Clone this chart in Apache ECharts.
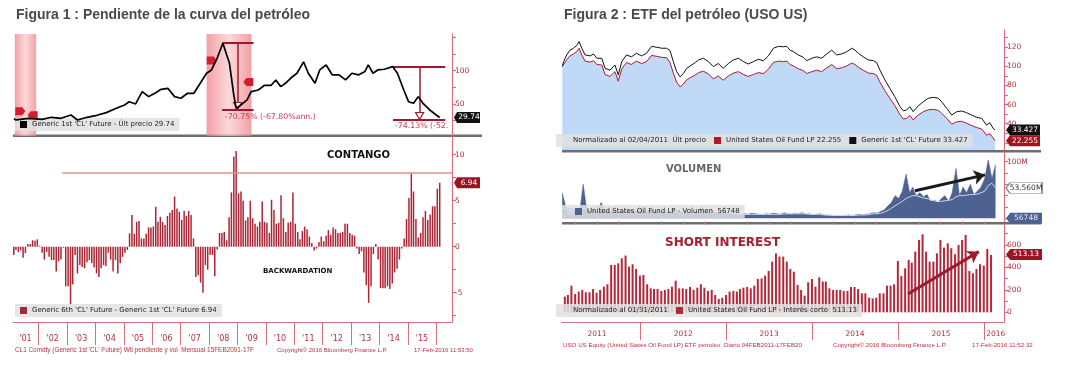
<!DOCTYPE html>
<html><head><meta charset="utf-8">
<script src="https://cdn.jsdelivr.net/npm/echarts@6/dist/echarts.min.js"></script>
<style>html,body{margin:0;padding:0;background:#fff}#c{width:1065px;height:366px}</style>
</head><body><div id="c"></div>
<script>
// ================= DATA =================
// --- Figura 1 ---
const fig1TickYears = [2002,2003,2004,2005,2006,2007,2008,2009,2010,2011,2012,2013,2014,2015,2016];
const fig1LabelYears = [2001,2002,2003,2004,2005,2006,2007,2008,2009,2010,2011,2012,2013,2014,2015];
const clDates = ['2001-02-15','2001-03-15','2001-08-28','2002-02-15','2002-06-15','2002-10-15','2003-02-20','2003-05-15','2003-09-15','2004-01-20','2004-05-20','2004-09-25','2005-01-10','2005-03-10','2005-06-01','2005-08-25','2005-11-15','2006-02-05','2006-04-25','2006-07-20','2006-10-15','2007-01-05','2007-03-30','2007-06-20','2007-09-10','2007-12-01','2008-02-01','2008-04-05','2008-06-27','2008-09-20','2008-11-15','2008-12-15','2009-02-15','2009-05-05','2009-06-25','2009-09-25','2009-12-15','2010-03-10','2010-05-10','2010-07-10','2010-09-10','2010-11-15','2011-02-05','2011-05-01','2011-07-01','2011-09-25','2011-11-25','2012-02-15','2012-05-05','2012-07-30','2012-10-22','2013-01-12','2013-04-05','2013-06-28','2013-08-10','2013-10-10','2013-12-10','2014-03-05','2014-06-20','2014-08-20','2014-11-10','2015-01-10','2015-03-15','2015-05-15','2015-07-15','2015-10-10','2016-01-01','2016-02-15'];
const clValues = [28,26,28.5,27,30,28.5,33.4,26,30,33,37,43.5,48.5,53.4,50,68.4,61,66,72,73.5,61,58.5,66,66,81,96,101,116,141,111,63,43.5,48.5,56,68.4,71,78,78,86,76,81,88.5,96,113,96,81,101,108.5,93.5,93.5,86,96,93.5,98.5,108.5,96,101,102,106,96,71,53.4,51,61,51,41,33.4,29.74];
// Generic 6th - Generic 1st, monthly from Feb 2001 to Feb 2016
const slopeStart = [2001, 2];
const slopeValues = [
 -0.9,-0.35,-0.6,-0.4,-1.2,-0.7,0.3,0.3,0.7,0.65,0.8,
 0.1,-0.65,-1.4,-0.55,-1.1,-1.45,-1.45,-2.7,-1.6,-1.4,-0.1,-4.3,
 -4.3,-6.3,-4.1,-0.9,-2.9,-2.0,-2.2,-2.35,-1.7,-1.45,-1.8,-2.25,
 -2.9,-3.3,-2.35,-2.0,-2.1,-0.65,-1.4,-2.7,-1.45,-2.9,-1.8,-1.1,
 -0.65,-0.35,1.45,3.45,1.4,2.7,2.8,0.9,0.9,1.4,2.1,2.1,
 2.2,4.35,2.7,3.25,2.7,2.35,3.35,3.7,4.0,5.45,4.15,3.8,
 2.9,3.9,3.35,3.9,3.45,0.9,-3.3,-3.1,-3.9,-5.0,-2.0,-2.5,
 -0.9,-0.9,-3.2,-0.3,1.5,1.5,1.6,0.7,3.2,5.9,9.8,10.4,
 5.8,6.0,5.0,2.85,3.2,5.0,3.1,2.5,2.2,2.7,4.9,2.7,
 2.6,1.5,5.1,4.0,2.5,2.6,5.6,3.1,1.6,2.6,2.7,5.9,
 2.5,1.6,0.8,1.7,2.2,1.9,1.1,0.4,-0.4,-0.2,0.5,1.1,
 0.6,1.2,1.8,1.3,2.1,1.9,1.5,1.5,1.6,2.5,2.5,1.5,
 1.3,1.2,-0.2,-0.8,-0.5,-2.8,-4.2,-6.1,-4.3,-0.8,0.3,-1.4,
 -4.5,-4.5,-4.5,-4.3,-4.6,-4.0,-2.8,-2.4,-1.4,-0.2,0.9,3.0,
 5.3,8.0,6.0,3.0,1.0,1.5,3.2,3.9,2.9,3.5,4.4,4.4,
 6.3,6.94];
const recessions = [['2001-03-01','2001-11-30'],['2007-12-01','2009-06-30']];
const contangoThreshold = 8.0;
const thresholdFrom = '2002-10-30';
const drawdowns = [
 {peak:'2008-06-17', end:'2009-07-27', mid:'2009-01-03', top:141.8, bottom:41, tri:47, label:'-70.75% (-67.80%ann.)', labelAt:'2008-07-25', labelY:30.5},
 {peak:'2014-06-24', end:'2016-04-26', mid:'2015-06-01', top:105.8, bottom:27, tri:32, label:'-74.13% (-52.', labelAt:'2014-07-20', labelY:17}
];
const recessionFlags = [['2001-05-10',39,'r'],['2001-10-15',33,'l'],['2008-02-05',115,'r'],['2009-05-20',83,'l']];
const clLast = 29.74, slopeLast = 6.94;

// --- Figura 2 ---
const fig2TickYears = [2012,2013,2014,2015,2016];
const fig2LabelDates = ['2011-07-02','2012-07-02','2013-07-02','2014-07-02','2015-07-02','2016-02-20'];
const usoDates = ['2011-02-04','2011-02-10','2011-02-23','2011-03-09','2011-03-24','2011-04-07','2011-04-17','2011-04-28','2011-05-12','2011-06-03','2011-06-17','2011-07-01','2011-07-22','2011-08-05','2011-08-26','2011-09-16','2011-09-30','2011-10-15','2011-11-04','2011-11-25','2011-12-16','2012-01-07','2012-01-28','2012-02-19','2012-03-12','2012-04-02','2012-04-23','2012-05-07','2012-05-21','2012-06-04','2012-06-19','2012-07-03','2012-07-17','2012-08-07','2012-08-22','2012-09-05','2012-09-26','2012-10-17','2012-11-07','2012-11-28','2012-12-19','2013-01-10','2013-01-31','2013-02-21','2013-03-15','2013-04-05','2013-04-26','2013-05-17','2013-06-08','2013-06-29','2013-07-20','2013-08-11','2013-09-01','2013-09-15','2013-09-29','2013-10-13','2013-11-03','2013-11-25','2013-12-09','2013-12-30','2014-01-20','2014-02-10','2014-03-04','2014-03-25','2014-04-15','2014-05-06','2014-05-28','2014-06-18','2014-07-02','2014-07-16','2014-08-06','2014-08-28','2014-09-18','2014-10-02','2014-10-16','2014-11-06','2014-11-27','2014-12-18','2015-01-09','2015-01-23','2015-02-06','2015-02-20','2015-03-06','2015-03-27','2015-04-18','2015-05-09','2015-05-31','2015-06-21','2015-07-05','2015-07-27','2015-08-17','2015-09-07','2015-09-28','2015-10-19','2015-11-10','2015-12-01','2015-12-22','2016-01-12','2016-01-26','2016-02-09','2016-02-17'];
const cl1Norm = [100,105,112,117,119,122,126,119,112,111,113,108.5,108.5,98,96,101.5,91,105,112,110,113.7,111,113.7,121,120,119,119,116.5,105,94.5,89,92.7,98,101.5,104,106.7,108.5,105,99.7,103,98,103,106.7,108.5,105,102.5,105,107.4,106,111,119,121,120.5,121,117,115.4,112,109.5,106,108.5,110,108.5,113,117,112,113,115.4,119,117,113.7,110,106.7,106,104,96,85.8,77,68.3,57.8,53.6,54.3,57.8,52.6,58.5,63,66.6,67.6,66.6,63,56,49,52.6,53.3,51.5,49,46.7,45.6,38.6,41,35,33.427];
const usoNorm = [100,101,107,111,113,115.5,119,112,105.5,104.5,106,102,101.5,91.5,89.5,94.5,84.5,97.5,104,102,105.5,103,105,111.5,110.5,109.5,109,104,93,83.5,78.5,81.5,86,89,91,93.5,95,92,87,90,85.5,90,93,94.5,91.5,89.5,91.5,93.5,92.5,97,104,105.5,105,105.5,102,100.5,97.5,95.5,92.5,94.5,96,94.5,98.5,102,97.5,98.5,100.5,103.5,102,99,96,93,92.5,90.5,83.5,74.5,66.5,59,49.5,45,45.5,48.5,44,49,52.5,54.5,55,54,51,45.5,39.5,42,42.5,40.5,38,36,34.5,28,29.5,25,22.255];
// Volume (millions), semi-monthly from 4 Feb 2011
const volStart = [2011, 2];
const volume = [45,20,15,12,18,10,60,15,12,18,10,28,14,12,15,10,14,12,16,12,15,12,18,10,
 14,20,12,15,10,14,12,18,12,10,14,12,10,12,14,20,12,10,14,10,12,10,8,10,
 8,6,7,8,7,9,8,7,6,8,7,9,8,7,10,8,7,9,8,10,7,8,6,7,
 8,6,5,6,4,5,4,5,6,5,6,7,6,7,8,10,9,12,
 15,22,28,40,35,48,78,45,55,40,45,38,42,30,32,28,35,40,30,45,88,40,55,45,60,42,48,55,70,103,70,95];
const volumeAvg = [18,17,17,16,16,15,18,17,16,16,15,17,16,15,15,14,14,14,14,14,13,14,14,13,
 13,14,13,13,13,13,13,14,13,12,12,12,12,12,12,13,13,12,12,11,11,11,10,10,
 9,8,8,7,7,7,7,7,7,7,7,7,7,7,8,8,8,8,8,8,8,7,7,7,
 7,6,6,5,5,5,5,5,5,5,5,6,6,6,7,8,8,9,11,14,18,22,26,30,
 35,38,40,40,38,36,35,33,31,30,30,31,32,33,38,40,40,41,42,42,43,45,48,58,62,54];
// Short interest (normalised), semi-monthly from 15 Feb 2011
const siStart = [2011, 2];
const shortInterest = [139,154,237,163,184,199,178,178,207,175,
 199,228,249,421,421,435,480,504,406,427,
 385,326,332,249,213,207,207,190,199,207,
 228,281,213,213,207,225,199,219,249,219,
 190,199,154,119,130,154,184,190,184,207,
 219,225,213,237,296,302,326,367,450,524,
 495,495,450,385,361,243,199,148,267,296,
 228,311,273,273,213,199,199,199,190,190,
 225,225,207,169,169,130,124,130,169,169,
 237,237,249,456,323,391,465,441,539,643,
 693,539,450,450,524,643,575,613,569,516,
 598,643,687,367,347,385,427,415,563,510];
const volArrow = [['2015-03-14',48.8],['2016-01-05',76.8]];
const siArrow = [['2015-02-12',163],['2015-12-10',539]];
const usoLast = 22.255, cl2Last = 33.427, volAvgLast = 53.56, volLast = 0.056748, siLast = 513.13;

// ================= HELPERS =================
const T = s => { const p = s.split('-').map(Number); return +new Date(p[0], p[1]-1, p[2] || 1); };
const pair = (ds, vs) => ds.map((d, i) => [T(d), vs[i]]);
function monthly(start, vals) { return vals.map((v, i) => [+new Date(start[0], start[1]-1+i, 15), v]); }
function semiMonthly(start, vals, d1, d2) {
  return vals.map((v, i) => {
    const m = start[1]-1+Math.floor(i/2);
    const d = (i % 2 === 0) ? new Date(start[0], m, d1) : (d2 === 0 ? new Date(start[0], m+1, 0) : new Date(start[0], m, d2));
    return [+d, v];
  });
}

const RED_AX = '#d8707c', RED_TX = '#b3303e';
const FONT = 'DejaVu Sans';
const F1MIN = T('2001-02-05'), F1MAX = T('2016-07-22');
const F2MIN = T('2011-02-03'), F2MAX = T('2016-03-26');

function yAx(grid, min, max, ticks, labels, fmt) {
  return { type:'value', gridIndex:grid, position:'right', min:min, max:max,
    axisLine:{show:true, lineStyle:{color:RED_AX, width:1.2}},
    axisTick:{show:true, length:4, customValues:ticks, lineStyle:{color:RED_AX, width:1.2}},
    axisLabel:{show:true, customValues:labels, margin:3, color:RED_TX, fontSize:7.5, fontFamily:FONT, formatter:fmt || (v => String(v))},
    splitLine:{show:false} };
}
function hiddenX(grid, min, max) {
  return { type:'value', gridIndex:grid, min:min, max:max, show:false, splitLine:{show:false} };
}
const boxPath = 'path://M0,5 L4,0 L34,0 L34,10 L4,10 Z';
function valueBox(xmax, val, txt, fill, txtColor, w, border) {
  return { coord:[xmax, val], symbol:boxPath, symbolSize:[w, 11], symbolKeepAspect:false,
    symbolOffset:[w/2+2, 0],
    itemStyle:{color:fill, borderColor:border || fill, borderWidth: border ? 1 : 0},
    label:{show:true, position:'inside', formatter:txt, color:txtColor, fontSize:7.5, fontFamily:FONT, offset:[2,0]} };
}

// ================= OPTION =================
const ddLines = [], ddPoints = [];
const DDC = '#9b1c2c';
drawdowns.forEach(d => {
  ddLines.push([{coord:[T(d.peak), d.top]}, {coord:[T(d.end), d.top]}]);
  ddLines.push([{coord:[T(d.peak), d.bottom]}, {coord:[T(d.end), d.bottom]}]);
  ddLines.push([{coord:[T(d.mid), d.top], lineStyle:{width:1.5}}, {coord:[T(d.mid), d.tri]}]);
  ddPoints.push({coord:[T(d.mid), d.tri], symbol:'triangle', symbolRotate:180, symbolSize:[8,7],
    itemStyle:{color:'#fff', borderColor:DDC, borderWidth:1.2}, label:{show:false}});
  ddPoints.push({coord:[T(d.labelAt), d.labelY], symbol:'circle', symbolSize:0,
    label:{show:true, position:'right', distance:0, formatter:d.label, color:'#c43c50', fontSize:7.8, fontFamily:FONT}});
});
const flagR = 'path://M0,0 L7,0 L10,4 L7,8 L0,8 Z', flagL = 'path://M3,0 L10,0 L10,8 L3,8 L0,4 Z';
recessionFlags.forEach(f => ddPoints.push({coord:[T(f[0]), f[1]], symbol: f[2]==='r' ? flagR : flagL, symbolSize:[10,8],
  itemStyle:{color:'#d11f2f'}, label:{show:false}}));
ddPoints.push(valueBox(F1MAX, clLast, '29.74', '#111', '#fff', 26));

const recGrad = new echarts.graphic.LinearGradient(0,0,1,0,[
  {offset:0, color:'rgba(238,128,134,0.75)'},{offset:0.5, color:'rgba(249,200,202,0.7)'},{offset:1, color:'rgba(238,128,134,0.75)'}]);

const P1 = "Generic 1st 'CL' Future - Últ precio 29.74";
const B1 = "Generic 6th 'CL' Future - Generic 1st 'CL' Future 6.94";
const N1 = "Normalizado al 02/04/2011  Últ precio";
const USO = "United States Oil Fund LP 22.255";
const CL2 = "Generic 1st 'CL' Future 33.427";
const VOL = "United States Oil Fund LP - Volumen  56748";
const VOLAVG = "vol-avg";
const N2 = "Normalizado al 01/31/2011";
const SI = "United States Oil Fund LP - Interés corto  513.13";

const legBase = {orient:'horizontal', selectedMode:false, backgroundColor:'rgba(224,224,224,0.85)',
  padding:[3,5,3,5], itemWidth:7, itemHeight:7, itemGap:8, icon:'rect',
  textStyle:{fontSize:7, color:'#222', fontFamily:FONT}};

const yearOf = v => new Date(v).getFullYear();

const option = {
  animation:false,
  backgroundColor:'#fff',
  title:[
    {text:'Figura 1 : Pendiente de la curva del petróleo', left:16, top:8, padding:0,
      textStyle:{fontSize:14, fontWeight:'bold', color:'#4a4a4a', fontFamily:'Liberation Sans'}},
    {text:'Figura 2 : ETF del petróleo (USO US)', left:564, top:8, padding:0,
      textStyle:{fontSize:14, fontWeight:'bold', color:'#4a4a4a', fontFamily:'Liberation Sans'}}
  ],
  legend:[
    Object.assign({}, legBase, {data:[P1], left:15, top:118}),
    Object.assign({}, legBase, {data:[B1], left:15, top:304}),
    Object.assign({}, legBase, {data:[{name:N1, icon:'none'}, USO, CL2], left:556, top:134}),
    Object.assign({}, legBase, {data:[VOLAVG, VOL], left:562, top:205, itemGap:1,
      formatter: n => n === VOLAVG ? '' : n}),
    Object.assign({}, legBase, {data:[{name:N2, icon:'none'}, SI], left:556, top:304})
  ],
  grid:[
    {left:13, top:34, width:439, height:102},
    {left:13, top:137, width:439, height:185},
    {left:562, top:30, width:442, height:120},
    {left:562, top:152.5, width:442, height:69.5},
    {left:562, top:224.5, width:442, height:97.5}
  ],
  xAxis:[
    hiddenX(0, F1MIN, F1MAX),
    { type:'value', gridIndex:1, min:F1MIN, max:F1MAX,
      axisLine:{show:true, onZero:false, lineStyle:{color:RED_AX, width:1.2}},
      axisTick:{show:true, length:23, customValues:fig1TickYears.map(y => +new Date(y,0,1)), lineStyle:{color:RED_AX, width:1}},
      axisLabel:{show:true, customValues:fig1LabelYears.map(y => +new Date(y, 6, y===2001?15:1)), margin:13,
        color:RED_TX, fontSize:8, fontFamily:FONT, formatter: v => "'" + String(yearOf(v)).slice(2)},
      splitLine:{show:false} },
    hiddenX(2, F2MIN, F2MAX),
    hiddenX(3, F2MIN, F2MAX),
    { type:'value', gridIndex:4, min:F2MIN, max:F2MAX,
      axisLine:{show:true, onZero:false, lineStyle:{color:RED_AX, width:1.2}},
      axisTick:{show:true, length:18, customValues:fig2TickYears.map(y => +new Date(y,0,1)), lineStyle:{color:RED_AX, width:1}},
      axisLabel:{show:true, customValues:fig2LabelDates.map(T), margin:8,
        color:RED_TX, fontSize:7.5, fontFamily:FONT, formatter: v => String(yearOf(v))},
      splitLine:{show:false} },
    { type:'value', gridIndex:4, min:F2MIN, max:F2MAX,
      axisLine:{show:false, onZero:false},
      axisTick:{show:true, length:3, customValues:[2011,2012,2013,2014,2015].flatMap(y => [3,6,9].map(m => +new Date(y,m,1))).concat([+new Date(2016,0,1)]).filter(v => v > F2MIN), lineStyle:{color:RED_AX}},
      axisLabel:{show:false}, splitLine:{show:false} }
  ],
  yAxis:[
    yAx(0, 1.95, 154.9, [25,50,75,100,125,150], [50,100]),
    yAx(1, -8.18, 11.92, [-7.5,-5,-2.5,0,2.5,5,7.5,10], [-5,0,5,10]),
    yAx(2, 12.46, 138.1, [20,30,40,50,60,70,80,90,100,110,120,130], [40,60,80,100,120]),
    yAx(3, -6.5, 116.3, [0,20,40,60,80,100], [100], v => v + 'M'),
    yAx(4, -86, 780, [0,100,200,300,400,500,600,700], [0,200,400,600])
  ],
  series:[
    { name:P1, type:'line', xAxisIndex:0, yAxisIndex:0, data:pair(clDates, clValues), showSymbol:false, clip:false,
      color:'#000', lineStyle:{color:'#000', width:1.7}, z:5,
      markArea:{silent:true, itemStyle:{color:recGrad}, data:recessions.map(r => [{xAxis:T(r[0])}, {xAxis:T(r[1])}])},
      markLine:{silent:true, symbol:['none','none'], label:{show:false}, lineStyle:{color:DDC, width:2, type:'solid'}, data:ddLines},
      markPoint:{silent:true, data:ddPoints} },
    { name:B1, type:'bar', xAxisIndex:1, yAxisIndex:1, data:monthly(slopeStart, slopeValues), barWidth:1.5, clip:false,
      color:'#ad2434', itemStyle:{color:'#ad2434'},
      markLine:{silent:true, symbol:['none','none'], label:{show:false}, lineStyle:{color:'#f08890', width:1.5, type:'solid'},
        data:[[{coord:[T(thresholdFrom), contangoThreshold]}, {coord:[F1MAX, contangoThreshold]}]]},
      markPoint:{silent:true, data:[valueBox(F1MAX, slopeLast, '6.94', '#9b1424', '#fff', 26)]} },
    { name:USO, type:'line', xAxisIndex:2, yAxisIndex:2, data:pair(usoDates, usoNorm), showSymbol:false,
      color:'#b0182c', lineStyle:{color:'#b0182c', width:1}, areaStyle:{color:'#bfd9f7', opacity:1, origin:'start'}, z:2 },
    { name:CL2, type:'line', xAxisIndex:2, yAxisIndex:2, data:pair(usoDates, cl1Norm), showSymbol:false, clip:false,
      color:'#111', lineStyle:{color:'#111', width:1}, z:3,
      markPoint:{silent:true, data:[valueBox(F2MAX, cl2Last, '33.427', '#111', '#fff', 34), valueBox(F2MAX, usoLast, '22.255', '#a0141f', '#fff', 34)]} },
    { name:N1, type:'line', xAxisIndex:2, yAxisIndex:2, data:[] },
    { name:VOL, type:'line', xAxisIndex:3, yAxisIndex:3, data:semiMonthly(volStart, volume, 4, 19), showSymbol:false,
      color:'#4d6290', lineStyle:{color:'#4d6290', width:0.6}, areaStyle:{color:'#4d6290', opacity:1} },
    { name:VOLAVG, type:'line', xAxisIndex:3, yAxisIndex:3, data:semiMonthly(volStart, volumeAvg, 4, 19), showSymbol:false, clip:false,
      color:'#cfd9ee', lineStyle:{color:'#cfd9ee', width:1},
      markLine:{silent:true, label:{show:false}, lineStyle:{color:'#1a1a1a', width:3, type:'solid'},
        data:[[{coord:[T(volArrow[0][0]), volArrow[0][1]], symbol:'none'}, {coord:[T(volArrow[1][0]), volArrow[1][1]], symbol:'arrow', symbolSize:[11,11]}]]},
      markPoint:{silent:true, data:[valueBox(F2MAX, volAvgLast, '53.560M', '#fff', '#333', 36, '#888'), valueBox(F2MAX, volLast, '56748', '#4d6290', '#e8e8f0', 36)]} },
    { name:SI, type:'bar', xAxisIndex:4, yAxisIndex:4, data:semiMonthly(siStart, shortInterest, 15, 0), barWidth:2, clip:false,
      color:'#b3283a', itemStyle:{color:'#b3283a'},
      markLine:{silent:true, label:{show:false}, lineStyle:{color:'#9b1c2c', width:3, type:'solid'},
        data:[[{coord:[T(siArrow[0][0]), siArrow[0][1]], symbol:'none'}, {coord:[T(siArrow[1][0]), siArrow[1][1]], symbol:'arrow', symbolSize:[11,11]}]]},
      markPoint:{silent:true, data:[valueBox(F2MAX, siLast, '513.13', '#9b1424', '#fff', 36)]} },
    { name:N2, type:'line', xAxisIndex:4, yAxisIndex:4, data:[] }
  ],
  graphic:[
    {type:'rect', left:13, top:134.5, shape:{width:469, height:2.5}, style:{fill:'#6e6e6e'}, silent:true},
    {type:'rect', left:562, top:150, shape:{width:479, height:2.5}, style:{fill:'#6e6e6e'}, silent:true},
    {type:'rect', left:562, top:222, shape:{width:479, height:2.5}, style:{fill:'#6e6e6e'}, silent:true},
    {type:'text', left:327, top:150, style:{text:'CONTANGO', font:'bold 10px "DejaVu Sans"', fill:'#111'}, silent:true},
    {type:'text', left:263, top:268, style:{text:'BACKWARDATION', font:'bold 7px "DejaVu Sans"', fill:'#111'}, silent:true},
    {type:'text', left:666, top:164, style:{text:'VOLUMEN', font:'bold 10px "DejaVu Sans"', fill:'#666'}, silent:true},
    {type:'text', left:665, top:237, style:{text:'SHORT INTEREST', font:'bold 12px "DejaVu Sans"', fill:'#a3202e'}, silent:true},
    {type:'text', left:15, top:347, style:{text:"CL1 Comdty (Generic 1st 'CL' Future) Wti pendiente y vol  Mensual 15FEB2001-17F", font:'6.4px "Liberation Sans"', fill:'#c03040'}, silent:true},
    {type:'text', left:277, top:347, style:{text:'Copyright© 2016 Bloomberg Finance L.P.', font:'6px "Liberation Sans"', fill:'#c03040'}, silent:true},
    {type:'text', left:414, top:347, style:{text:'17-Feb-2016 11:53:50', font:'6px "Liberation Sans"', fill:'#c03040'}, silent:true},
    {type:'text', left:563, top:342, style:{text:'USO US Equity (United States Oil Fund LP) ETF petroleo  Diario 04FEB2011-17FEB20', font:'6.2px "Liberation Sans"', fill:'#c03040'}, silent:true},
    {type:'text', left:833, top:342, style:{text:'Copyright© 2016 Bloomberg Finance L.P.', font:'6.2px "Liberation Sans"', fill:'#c03040'}, silent:true},
    {type:'text', left:972, top:342, style:{text:'17-Feb-2016 11:52:32', font:'6.2px "Liberation Sans"', fill:'#c03040'}, silent:true}
  ]
};
const chart = echarts.init(document.getElementById('c'), null, {renderer:'canvas'});
chart.setOption(option);
</script>
</body></html>
